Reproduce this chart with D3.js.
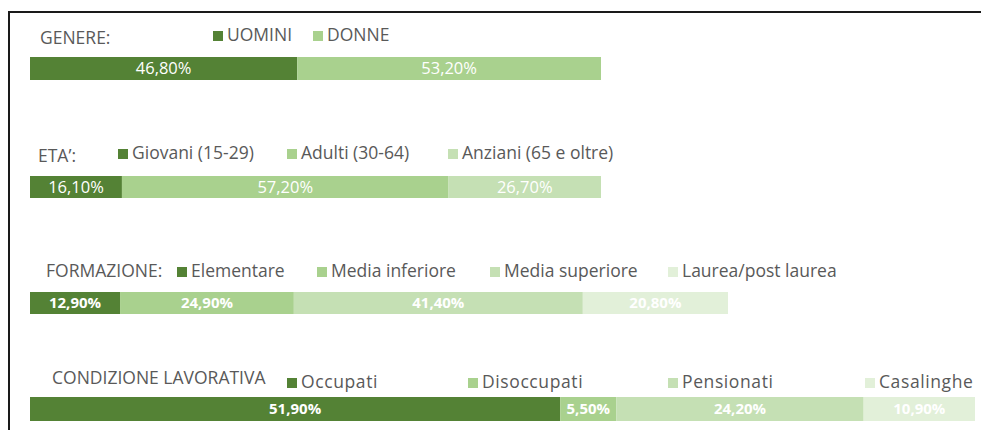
<!DOCTYPE html>
<html>
<head>
<meta charset="utf-8">
<script src="https://cdn.jsdelivr.net/npm/d3@7"></script>
<style>
  body { margin: 0; background: #fff; }
  svg text { font-family: "Open Sans", sans-serif; }
</style>
</head>
<body>
<div id="chart"></div>
<script>
// Data, one set of arrays per block
const genereCategories = ["UOMINI", "DONNE"];
const genereValues = [46.8, 53.2];

const etaCategories = ["Giovani (15-29)", "Adulti (30-64)", "Anziani (65 e oltre)"];
const etaValues = [16.1, 57.2, 26.7];

const formazioneCategories = ["Elementare", "Media inferiore", "Media superiore", "Laurea/post laurea"];
const formazioneValues = [12.9, 24.9, 41.4, 20.8];

const lavoroCategories = ["Occupati", "Disoccupati", "Pensionati", "Casalinghe"];
const lavoroValues = [51.9, 5.5, 24.2, 10.9];

const titles = ["GENERE:", "ETA\u2019:", "FORMAZIONE:", "CONDIZIONE LAVORATIVA"];

const colors = ["#548235", "#a9d18e", "#c5e0b4", "#e2f0d9"];

const width = 981;
const height = 430;

// layout of each block (positions only)
const layout = [
    { titleX: 40, titleY: 44, legendX: [213, 313], legendY: 41, barY: 57, barH: 23, barRight: 601, bold: false, spacing: 0 },
    { titleX: 38, titleY: 162, legendX: [118, 287, 448], legendY: 159, barY: 176, barH: 22, barRight: 601, bold: false, spacing: 0 },
    { titleX: 46, titleY: 277, legendX: [177, 317, 490, 668], legendY: 277, barY: 292, barH: 22, barRight: 728, bold: true, spacing: 0 },
    { titleX: 52, titleY: 384, legendX: [287, 468, 668, 865], legendY: 388, barY: 397, barH: 24, barRight: 975, bold: true, spacing: 0.6 }
];

const blocks = [
    { cats: genereCategories, vals: genereValues },
    { cats: etaCategories, vals: etaValues },
    { cats: formazioneCategories, vals: formazioneValues },
    { cats: lavoroCategories, vals: lavoroValues }
];

const svg = d3.select("#chart")
    .append("svg")
    .attr("width", width)
    .attr("height", height);

// frame (top and left edges only are visible)
svg.append("path")
    .attr("d", `M9,${height + 2}V12H${width + 2}`)
    .attr("fill", "none")
    .attr("stroke", "#1a1a1a")
    .attr("stroke-width", 2);

const fmt = v => v.toFixed(2).replace(".", ",") + "%";

blocks.forEach((b, i) => {
    const L = layout[i];
    const g = svg.append("g");

    g.append("text")
        .attr("x", L.titleX)
        .attr("y", L.titleY)
        .attr("fill", "#595959")
        .style("font-size", "17.5px")
        .text(titles[i]);

    // legend
    const leg = g.selectAll(".leg")
        .data(b.cats)
        .join("g")
        .attr("transform", (d, j) => `translate(${L.legendX[j]},${L.legendY})`);
    leg.append("rect")
        .attr("x", 0).attr("y", -10)
        .attr("width", 10).attr("height", 10)
        .attr("fill", (d, j) => colors[j]);
    leg.append("text")
        .attr("x", 14)
        .attr("y", 0)
        .attr("fill", "#595959")
        .style("font-size", "17.5px")
        .style("letter-spacing", L.spacing + "px")
        .text(d => d);

    // stacked bar
    const total = d3.sum(b.vals);
    const x = d3.scaleLinear().domain([0, total]).range([30, L.barRight]);
    const starts = d3.cumsum([0].concat(b.vals));

    const seg = g.selectAll(".seg")
        .data(b.vals)
        .join("g");
    seg.append("rect")
        .attr("x", (d, j) => x(starts[j]))
        .attr("y", L.barY)
        .attr("width", (d, j) => x(starts[j] + d) - x(starts[j]))
        .attr("height", L.barH)
        .attr("fill", (d, j) => colors[j]);
    seg.append("text")
        .attr("x", (d, j) => (x(starts[j]) + x(starts[j] + d)) / 2)
        .attr("y", L.barY + L.barH / 2)
        .attr("dy", "0.36em")
        .attr("text-anchor", "middle")
        .attr("fill", "#fff")
        .style("font-size", L.bold ? "15px" : "16.5px")
        .style("font-weight", L.bold ? "bold" : "normal")
        .text(d => fmt(d));
});
</script>
</body>
</html>
